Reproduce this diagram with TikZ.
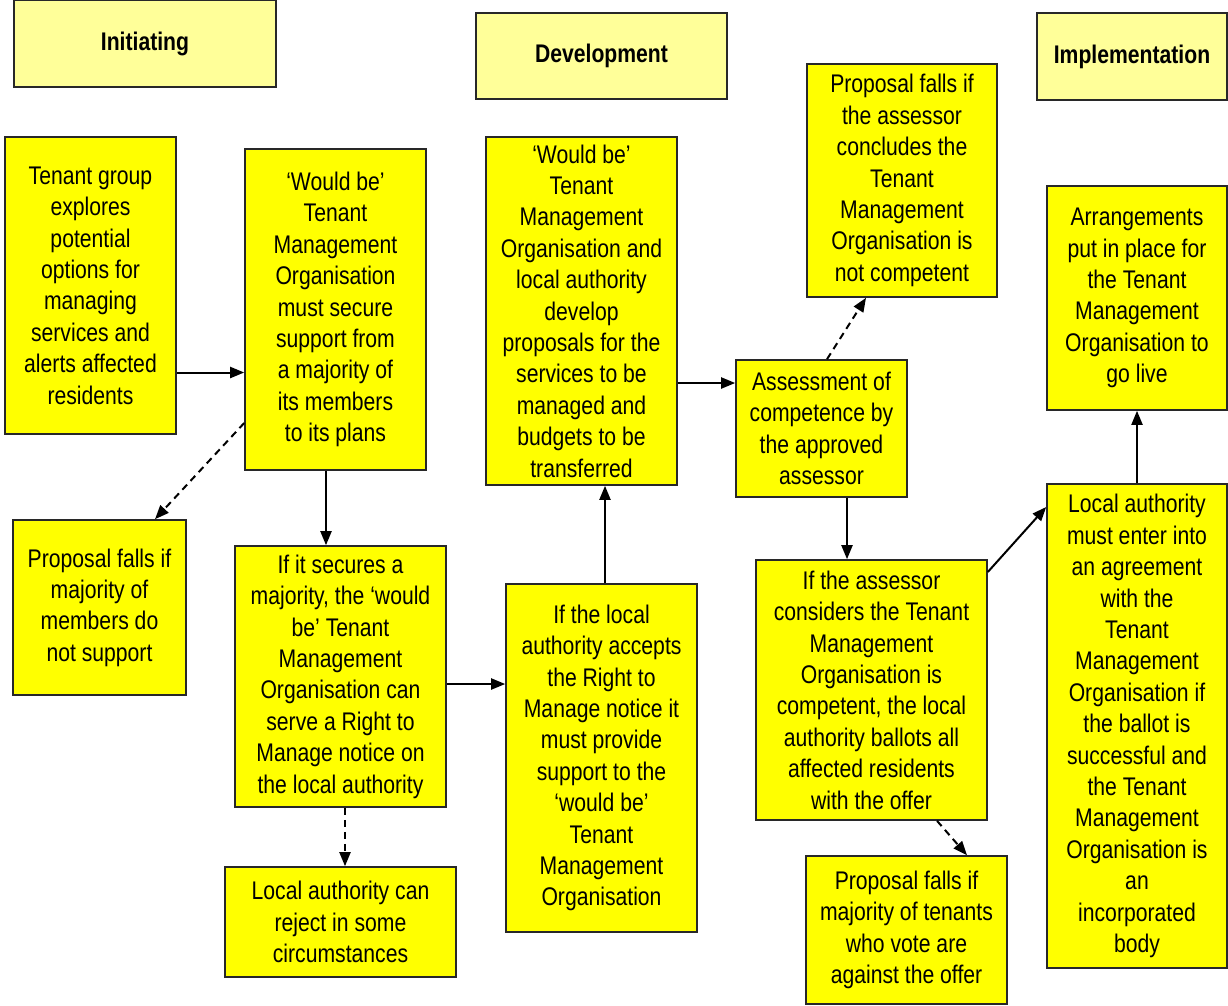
\documentclass[tikz,border=0pt]{standalone}
\usepackage{fontspec}
\setmainfont[FakeStretch=0.83]{Liberation Sans}
\usetikzlibrary{arrows.meta,calc}
\tikzset{
  stage/.style={draw=custcol_28_28_28, line width=1.6pt, fill=custcol_ff_ff_00, align=center,
    inner sep=0, font={\fontsize{25.5pt}{31.4pt}\selectfont}},
  phase/.style={stage, fill=custcol_ff_ff_99, font={\fontsize{25.5pt}{31.4pt}\selectfont\bfseries}},
  flow/.style={line width=2pt, custcol_0_0_0, -{Triangle[length=14pt,width=11pt]}},
  fallflow/.style={flow, dash pattern=on 7pt off 5pt}
}
\begin{document}
\begin{tikzpicture}[x=1pt,y=-1pt]
\definecolor{custcol_0_0_0}{RGB}{0, 0, 0}
\definecolor{custcol_28_28_28}{RGB}{40, 40, 40}
\definecolor{custcol_ff_ff_00}{RGB}{255, 255, 0}
\definecolor{custcol_ff_ff_99}{RGB}{255, 255, 153}
\useasboundingbox (0,0) rectangle (1228,1005);
% phase headings
\node[phase, minimum width=262pt, minimum height=87pt] (initiating) at (145,43.5) {Initiating};
\node[phase, minimum width=251pt, minimum height=86pt] (development) at (601.5,56) {Development};
\node[phase, minimum width=190pt, minimum height=87pt] (implementation) at (1132,56.5) {Implementation};
% initiating
\node[stage, minimum width=171pt, minimum height=297pt] (tenant) at (90.5,285.5)
  {Tenant group\\explores\\potential\\options for\\managing\\services and\\alerts affected\\residents};
\node[stage, minimum width=181pt, minimum height=321pt] (wouldbe) at (335.5,309.5)
  {‘Would be’\\Tenant\\Management\\Organisation\\must secure\\support from\\a majority of\\its members\\to its plans};
\node[stage, minimum width=173pt, minimum height=175pt] (fallmembers) at (99.5,607.5)
  {Proposal falls if\\majority of\\members do\\not support};
\node[stage, minimum width=211pt, minimum height=261pt] (secures) at (340.5,676.5)
  {If it secures a\\majority, the ‘would\\be’ Tenant\\Management\\Organisation can\\serve a Right to\\Manage notice on\\the local authority};
\node[stage, minimum width=231pt, minimum height=110pt] (reject) at (340.5,922)
  {Local authority can\\reject in some\\circumstances};
% development
\node[stage, minimum width=191pt, minimum height=348pt] (develop) at (581.5,311)
  {‘Would be’\\Tenant\\Management\\Organisation and\\local authority\\develop\\proposals for the\\services to be\\managed and\\budgets to be\\transferred};
\node[stage, minimum width=191pt, minimum height=348pt] (accepts) at (601.5,758)
  {If the local\\authority accepts\\the Right to\\Manage notice it\\must provide\\support to the\\‘would be’\\Tenant\\Management\\Organisation};
\node[stage, minimum width=190pt, minimum height=233pt] (fallassessor) at (902,180.5)
  {Proposal falls if\\the assessor\\concludes the\\Tenant\\Management\\Organisation is\\not competent};
\node[stage, minimum width=171pt, minimum height=137pt] (assessment) at (821.5,428.5)
  {Assessment of\\competence by\\the approved\\assessor};
\node[stage, minimum width=231pt, minimum height=260pt] (considers) at (871.5,690)
  {If the assessor\\considers the Tenant\\Management\\Organisation is\\competent, the local\\authority ballots all\\affected residents\\with the offer};
\node[stage, minimum width=201pt, minimum height=148pt] (falltenants) at (906.5,930)
  {Proposal falls if\\majority of tenants\\who vote are\\against the offer};
% implementation
\node[stage, minimum width=180pt, minimum height=224pt] (arrangements) at (1137,298)
  {Arrangements\\put in place for\\the Tenant\\Management\\Organisation to\\go live};
\node[stage, minimum width=180pt, minimum height=484pt] (enter) at (1137,726)
  {Local authority\\must enter into\\an agreement\\with the\\Tenant\\Management\\Organisation if\\the ballot is\\successful and\\the Tenant\\Management\\Organisation is\\an\\incorporated\\body};
% connectors
\draw[flow] ([yshift=-87pt]tenant.east) -- ([yshift=-87pt]tenant.east -| wouldbe.west);
\draw[fallflow] ([yshift=-113.5pt]wouldbe.west) -- ([xshift=55.5pt]fallmembers.north);
\draw[flow] ([xshift=-9.5pt]wouldbe.south) -- ([xshift=-9.5pt]wouldbe.south |- secures.north);
\draw[fallflow] ([xshift=4.5pt]secures.south) -- ([xshift=4.5pt]secures.south |- reject.north);
\draw[flow] ([yshift=-7.5pt]secures.east) -- ([yshift=-7.5pt]secures.east -| accepts.west);
\draw[flow] ([xshift=3.5pt]accepts.north) -- ([xshift=3.5pt]accepts.north |- develop.south);
\draw[flow] ([yshift=-72pt]develop.east) -- ([yshift=-72pt]develop.east -| assessment.west);
\draw[fallflow] ([xshift=5.5pt]assessment.north) -- ([xshift=-36pt]fallassessor.south);
\draw[flow] ([xshift=25.5pt]assessment.south) -- ([xshift=25.5pt]assessment.south |- considers.north);
\draw[fallflow] ([xshift=65.5pt]considers.south) -- ([xshift=60.5pt]falltenants.north);
\draw[flow] ([yshift=118pt]considers.east) -- ([yshift=219pt]enter.west);
\draw[flow] (enter.north) -- (arrangements.south);
\end{tikzpicture}
\end{document}
